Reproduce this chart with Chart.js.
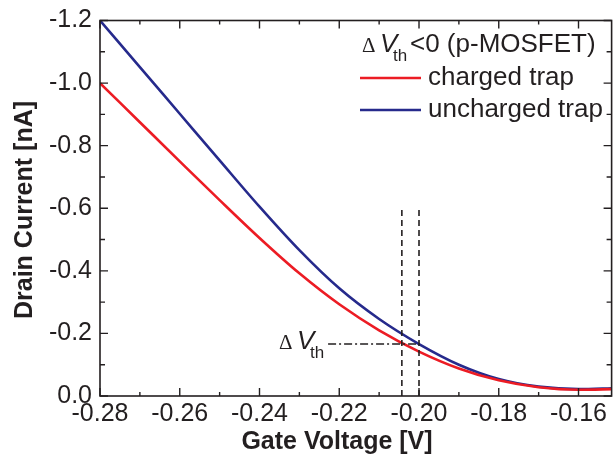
<!DOCTYPE html>
<html>
<head>
<meta charset="utf-8">
<script src="https://cdn.jsdelivr.net/npm/chart.js@4.4.1/dist/chart.umd.min.js"></script>
<style>
  html, body { margin: 0; padding: 0; background: #fff; }
  #box { width: 613px; height: 461px; }
</style>
</head>
<body>
<div id="box"><canvas id="grafico"></canvas></div>
<script>
// data
let gateVoltage = [-0.28, -0.27, -0.26, -0.25, -0.24, -0.23, -0.22, -0.21, -0.20, -0.19, -0.18, -0.17, -0.16, -0.151];
let chargedTrap = [-1.000, -0.875, -0.750, -0.626, -0.505, -0.392, -0.293, -0.210, -0.142, -0.088, -0.050, -0.028, -0.020, -0.022];
let unchargedTrap = [-1.200, -1.051, -0.902, -0.753, -0.605, -0.466, -0.344, -0.246, -0.166, -0.100, -0.054, -0.030, -0.022, -0.025];
let seriesNames = ["charged trap", "uncharged trap"];

let xTicks = [-0.28, -0.26, -0.24, -0.22, -0.20, -0.18, -0.16];
let xMinor = [-0.27, -0.25, -0.23, -0.21, -0.19, -0.17, -0.15];
let yTicks = [-1.2, -1.0, -0.8, -0.6, -0.4, -0.2, 0.0];
let yMinor = [-1.1, -0.9, -0.7, -0.5, -0.3, -0.1];

// threshold marks
let vthVoltages = [-0.2043, -0.2000];
let vthCurrent = -0.166;
let vthLineStart = -0.2228;
let vthLineTop = -0.6;

let rosso = "#ec1c24";
let blu = "#262a8c";
let nero = "#231f20";

function punti(xs, ys){
    let out = [];
    for(let i = 0; i < xs.length; i++){
        out.push({x: xs[i], y: ys[i]});
    }
    return out;
}

function deltaV(ctx, x, y){
    // Δ V_th written in pieces
    ctx.textAlign = "left";
    ctx.textBaseline = "alphabetic";
    ctx.font = "21px 'Liberation Serif'";
    ctx.fillText("\u0394", x, y);
    ctx.font = "italic 26px 'Liberation Sans'";
    ctx.fillText("V", x + 18, y);
    ctx.font = "17px 'Liberation Sans'";
    ctx.fillText("th", x + 31, y + 9);
}

let extras = {
    id: "extras",
    afterDatasetsDraw(chart){
        let ctx = chart.ctx;
        let a = chart.chartArea;
        let sx = chart.scales.x;
        let sy = chart.scales.y;
        ctx.save();

        // dashed vertical lines
        ctx.strokeStyle = nero;
        ctx.lineWidth = 1.6;
        ctx.setLineDash([6, 4]);
        for(let v of vthVoltages){
            let px = sx.getPixelForValue(v);
            ctx.beginPath();
            ctx.moveTo(px, sy.getPixelForValue(0));
            ctx.lineTo(px, sy.getPixelForValue(vthLineTop));
            ctx.stroke();
        }
        // dash-dot horizontal
        ctx.setLineDash([8, 3, 2, 3]);
        let py = sy.getPixelForValue(vthCurrent);
        ctx.beginPath();
        ctx.moveTo(sx.getPixelForValue(vthLineStart), py);
        ctx.lineTo(sx.getPixelForValue(vthVoltages[1]), py);
        ctx.stroke();
        ctx.setLineDash([]);

        ctx.fillStyle = nero;
        deltaV(ctx, sx.getPixelForValue(vthLineStart) - 49, py + 5);

        // frame
        ctx.lineWidth = 1.6;
        ctx.strokeRect(a.left, a.top, a.right - a.left, a.bottom - a.top);

        // inward ticks on all four sides
        ctx.lineWidth = 1.4;
        ctx.beginPath();
        for(let v of xTicks.concat(xMinor)){
            let len = xTicks.includes(v) ? 8 : 4;
            let px = sx.getPixelForValue(v);
            if(px < a.left - 1 || px > a.right + 1) continue;
            ctx.moveTo(px, a.bottom); ctx.lineTo(px, a.bottom - len);
            ctx.moveTo(px, a.top); ctx.lineTo(px, a.top + len);
        }
        for(let v of yTicks.concat(yMinor)){
            let len = yTicks.includes(v) ? 8 : 5;
            let p = sy.getPixelForValue(v);
            ctx.moveTo(a.left, p); ctx.lineTo(a.left + len, p);
            ctx.moveTo(a.right, p); ctx.lineTo(a.right - len, p);
        }
        ctx.stroke();

        // axis titles
        ctx.font = "bold 25px 'Liberation Sans'";
        ctx.textAlign = "center";
        ctx.textBaseline = "middle";
        ctx.fillText("Gate Voltage [V]", 337, 442);
        ctx.save();
        ctx.translate(25, 210);
        ctx.rotate(-Math.PI / 2);
        ctx.fillText("Drain Current [nA]", 0, 0);
        ctx.restore();

        // legend
        deltaV(ctx, 362, 52);
        ctx.font = "26px 'Liberation Sans'";
        ctx.fillText("<0 (p-MOSFET)", 410, 52);
        let righe = [78, 110];
        chart.data.datasets.forEach(function(ds, i){
            ctx.strokeStyle = ds.borderColor;
            ctx.lineWidth = 2.6;
            ctx.beginPath();
            ctx.moveTo(360, righe[i]);
            ctx.lineTo(421, righe[i]);
            ctx.stroke();
            ctx.fillStyle = nero;
            ctx.font = "26px 'Liberation Sans'";
            ctx.textBaseline = "middle";
            ctx.fillText(ds.label, 428, righe[i]);
        });
        ctx.restore();
    }
};

function disegnaGrafico(canvas){
    let dati = {
        datasets: [
            {label: seriesNames[0], data: punti(gateVoltage, chargedTrap), borderColor: rosso, borderWidth: 2.6, pointRadius: 0, cubicInterpolationMode: "monotone"},
            {label: seriesNames[1], data: punti(gateVoltage, unchargedTrap), borderColor: blu, borderWidth: 2.6, pointRadius: 0, cubicInterpolationMode: "monotone"}
        ]
    };

    let grafico = new Chart(canvas, {
        type: "line",
        data: dati,
        options: {
            responsive: true,
            maintainAspectRatio: false,
            animation: false,
            layout: {padding: {top: 12, right: 0, bottom: 0, left: 0}},
            plugins: {
                legend: {display: false},
                tooltip: {enabled: false}
            },
            scales: {
                x: {
                    type: "linear",
                    min: -0.28,
                    max: -0.1517,
                    grid: {display: false, drawTicks: false},
                    border: {display: false},
                    afterBuildTicks: function(scale){
                        scale.ticks = xTicks.map(function(v){ return {value: v}; });
                    },
                    afterFit: function(scale){ scale.height = 65; },
                    ticks: {
                        autoSkip: false,
                        maxRotation: 0,
                        padding: 6,
                        color: nero,
                        font: {family: "'Liberation Sans'", size: 25, lineHeight: 1},
                        callback: function(v){ return v.toFixed(2); }
                    }
                },
                y: {
                    type: "linear",
                    reverse: true,
                    min: -1.2,
                    max: 0,
                    grid: {display: false, drawTicks: false},
                    border: {display: false},
                    afterBuildTicks: function(scale){
                        scale.ticks = yTicks.map(function(v){ return {value: v}; });
                    },
                    afterFit: function(scale){ scale.width = 100; },
                    ticks: {
                        autoSkip: false,
                        padding: 8,
                        color: nero,
                        font: {family: "'Liberation Sans'", size: 25, lineHeight: 1},
                        callback: function(v){ return Math.abs(v) < 1e-9 ? "0.0" : v.toFixed(1); }
                    }
                }
            }
        },
        plugins: [extras]
    });
}

disegnaGrafico(document.getElementById("grafico"));
</script>
</body>
</html>
